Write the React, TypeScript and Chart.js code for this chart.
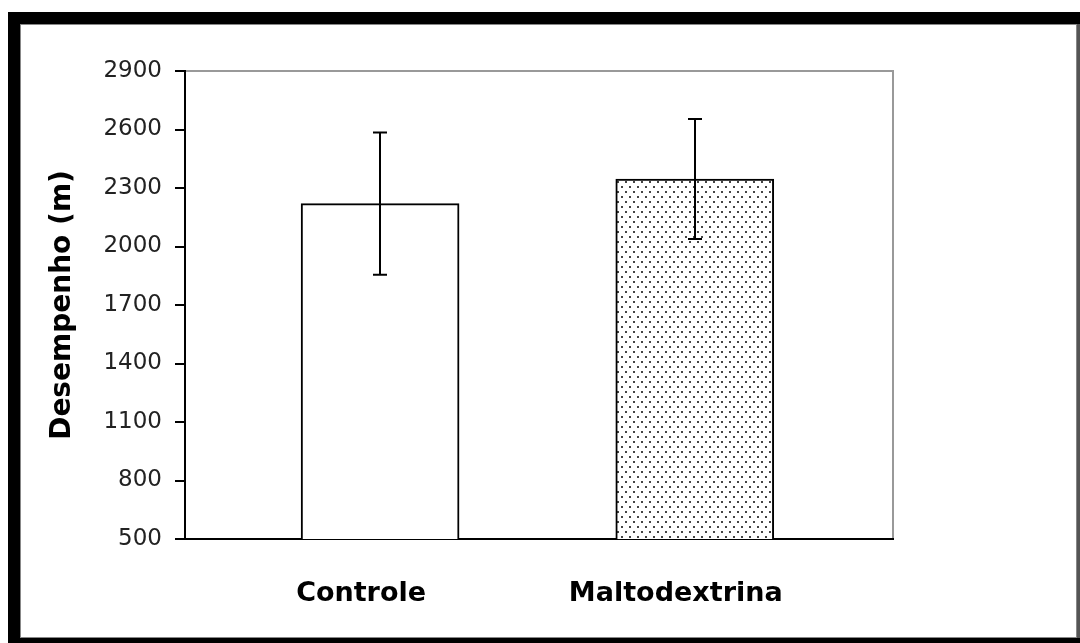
import React, { useEffect, useRef } from "react";
import { Chart, registerables } from "chart.js";

Chart.register(...registerables);

const categories = ["Controle", "Maltodextrina"];
const means = [2220, 2346];
const errors = [365, 308];
const yTicks = [500, 800, 1100, 1400, 1700, 2000, 2300, 2600, 2900];

function makeDotPattern(): CanvasPattern | string {
  const c = document.createElement("canvas");
  c.width = 8;
  c.height = 10;
  const g = c.getContext("2d");
  if (!g) return "#fff";
  g.fillStyle = "#ffffff";
  g.fillRect(0, 0, 8, 10);
  g.fillStyle = "#444444";
  g.fillRect(1, 1, 2, 2);
  g.fillRect(5, 6, 2, 2);
  const p = g.createPattern(c, "repeat");
  return p || "#fff";
}

const framePlugin = {
  id: "frame",
  beforeDraw(chart: any) {
    const ctx = chart.ctx;
    const w = chart.width;
    const h = chart.height;
    ctx.save();
    ctx.fillStyle = "#ffffff";
    ctx.fillRect(0, 0, w, h);
    ctx.fillStyle = "#000000";
    ctx.fillRect(8, 12, w - 8, h - 12);
    ctx.fillStyle = "#555555";
    ctx.fillRect(w - 3, 24, 3, 638 - 24);
    ctx.fillStyle = "#ffffff";
    ctx.fillRect(20, 24, w - 3 - 20, 638 - 24);
    ctx.strokeStyle = "#888888";
    ctx.lineWidth = 1;
    ctx.strokeRect(20.5, 24.5, w - 3 - 21, 638 - 25);
    const a = chart.chartArea;
    ctx.strokeStyle = "#999999";
    ctx.lineWidth = 2;
    ctx.beginPath();
    ctx.moveTo(a.left, a.top);
    ctx.lineTo(a.right, a.top);
    ctx.lineTo(a.right, a.bottom);
    ctx.stroke();
    ctx.restore();
  },
};

const errorBarPlugin = {
  id: "errbars",
  afterDatasetsDraw(chart: any) {
    const ctx = chart.ctx;
    const meta = chart.getDatasetMeta(0);
    const ys = chart.scales.y;
    ctx.save();
    ctx.strokeStyle = "#000000";
    ctx.lineWidth = 2;
    meta.data.forEach((bar: any, i: number) => {
      const x = Math.round(bar.x);
      const top = ys.getPixelForValue(means[i] + errors[i]);
      const bot = ys.getPixelForValue(means[i] - errors[i]);
      ctx.beginPath();
      ctx.moveTo(x, top);
      ctx.lineTo(x, bot);
      ctx.moveTo(x - 7, top);
      ctx.lineTo(x + 7, top);
      ctx.moveTo(x - 7, bot);
      ctx.lineTo(x + 7, bot);
      ctx.stroke();
    });
    ctx.restore();
  },
};

export default function App() {
  const ref = useRef<HTMLCanvasElement | null>(null);
  useEffect(() => {
    if (!ref.current) return;
    const pattern = makeDotPattern();
    const chart = new Chart(ref.current, {
      type: "bar",
      data: {
        datasets: [
          {
            data: means.map((m, i) => ({ x: i, y: m })),
            backgroundColor: ["#ffffff", pattern as any],
            borderColor: "#000000",
            borderWidth: 2,
            borderSkipped: "bottom",
            barThickness: 158,
          },
        ],
      },
      options: {
        animation: false,
        responsive: false,
        layout: { padding: { left: 30, top: 71, right: 187, bottom: 0 } },
        plugins: { legend: { display: false }, tooltip: { enabled: false } },
        scales: {
          x: {
            type: "linear",
            offset: false,
            min: -0.62,
            max: 1.63,
            afterBuildTicks: (s: any) => {
              s.ticks = categories.map((_, i) => ({ value: i }));
            },
            afterFit: (s: any) => {
              s.height = 104;
            },
            ticks: {
              callback: (v: any) => categories[v] ?? "",
              color: "#000000",
              padding: 39,
              labelOffset: -19,
              font: { family: "DejaVu Sans", size: 27, weight: "bold" },
            },
            grid: { display: false, drawTicks: false, offset: false },
            border: { color: "#000000", width: 2 },
          },
          y: {
            min: 500,
            max: 2900,
            afterBuildTicks: (s: any) => {
              s.ticks = yTicks.map((v) => ({ value: v }));
            },
            afterFit: (s: any) => {
              s.width = 155;
            },
            ticks: {
              color: "#222222",
              padding: 13,
              callback: (v: any) => String(v),
              font: { family: "DejaVu Sans", size: 23 },
            },
            grid: {
              drawOnChartArea: false,
              drawTicks: true,
              tickLength: 10,
              color: "#000000",
              lineWidth: 2,
            },
            border: { color: "#000000", width: 2 },
            title: {
              display: true,
              text: "Desempenho (m)",
              color: "#000000",
              padding: { top: 16, bottom: 0 },
              font: { family: "DejaVu Sans", size: 28, weight: "bold" },
            },
          },
        },
      },
      plugins: [framePlugin, errorBarPlugin],
    });
    return () => chart.destroy();
  }, []);
  return (
    <div style={{ position: "fixed", left: 0, top: 0, width: 1080, height: 643 }}>
      <canvas ref={ref} width={1080} height={643} style={{ display: "block" }} />
    </div>
  );
}
